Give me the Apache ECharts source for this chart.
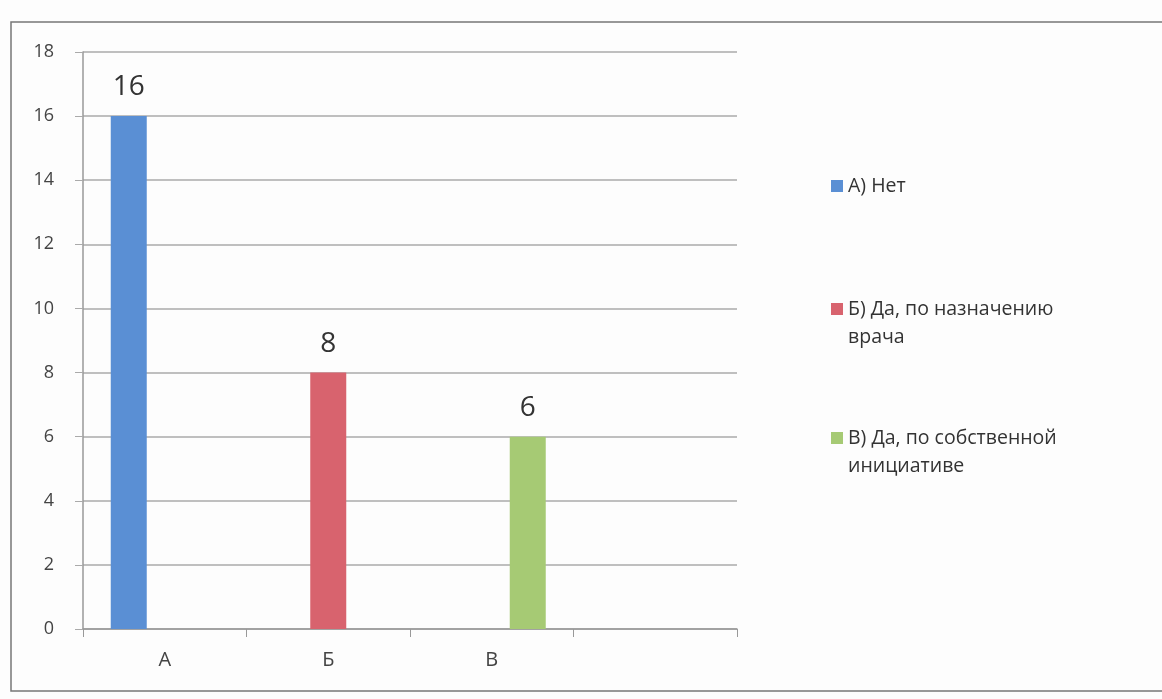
<!DOCTYPE html>
<html>
<head>
<meta charset="utf-8">
<title>chart</title>
<script src="https://cdn.jsdelivr.net/npm/echarts@6/dist/echarts.min.js"></script>
<style>
    html, body { margin: 0; padding: 0; background: #fdfdfd; }
    #main { width: 1162px; height: 699px; }
</style>
</head>
<body>
<div id="main"></div>
<script>
// категории по оси X (последняя пустая, как в оригинале)
var categories = ['А', 'Б', 'В', ''];
// названия рядов (легенда)
var seriesNames = ['А) Нет', 'Б) Да, по назначению врача', 'В) Да, по собственной инициативе'];
// значения рядов
var values = [16, 8, 6];
var colors = ['#5a8fd4', '#d8636e', '#a6ca74'];
// подписи оси Y
var yTicks = [0, 2, 4, 6, 8, 10, 12, 14, 16, 18];

var legendText = {
    'А) Нет': 'А) Нет',
    'Б) Да, по назначению врача': '\nБ) Да, по назначению\nврача',
    'В) Да, по собственной инициативе': '\nВ) Да, по собственной\nинициативе'
};
var legendTops = [167, 262, 391];

var chart = echarts.init(document.getElementById('main'));

// каждый ряд — своё значение в своей категории
var series = seriesNames.map(function(name, i) {
    var data = categories.map(function(c, j) { return j === i ? values[i] : '-'; });
    return {
        name: name,
        type: 'bar',
        data: data,
        barWidth: 36,
        barGap: '0%',
        itemStyle: { color: colors[i] },
        label: {
            show: true,
            position: 'top',
            distance: 15,
            fontSize: 28,
            color: '#333',
            fontFamily: 'Open Sans'
        }
    };
});

var legends = seriesNames.map(function(name, i) {
    return {
        data: [name],
        orient: 'vertical',
        left: 826,
        top: legendTops[i],
        itemWidth: 12,
        itemHeight: 12,
        itemGap: 0,
        icon: 'rect',
        formatter: function(n) { return legendText[n]; },
        textStyle: {
            fontSize: 19.5,
            lineHeight: 28,
            color: '#333',
            fontFamily: 'Open Sans'
        }
    };
});

chart.setOption({
    backgroundColor: '#fdfdfd',
    animation: false,
    color: colors,
    graphic: [{
        type: 'rect',
        shape: { x: 11, y: 22, width: 1170, height: 669 },
        style: { fill: 'none', stroke: '#777', lineWidth: 1.5 }
    }],
    legend: legends,
    grid: {
        left: 83,
        right: 425,
        top: 52,
        bottom: 70
    },
    xAxis: {
        type: 'category',
        data: categories,
        axisLine: { lineStyle: { color: '#999', width: 1.5 } },
        axisTick: { show: true, length: 8, lineStyle: { color: '#999' } },
        axisLabel: {
            fontSize: 20,
            color: '#444',
            margin: 21,
            fontFamily: 'Open Sans'
        }
    },
    yAxis: {
        type: 'value',
        min: yTicks[0],
        max: yTicks[yTicks.length - 1],
        interval: 2,
        axisLine: { show: true, lineStyle: { color: '#999', width: 1.5 } },
        axisTick: { show: true, length: 8, lineStyle: { color: '#aaa' } },
        axisLabel: {
            fontSize: 18,
            color: '#444',
            margin: 29,
            fontFamily: 'Open Sans'
        },
        splitLine: { lineStyle: { color: '#aaa', width: 1.5 } }
    },
    series: series
});
</script>
</body>
</html>
